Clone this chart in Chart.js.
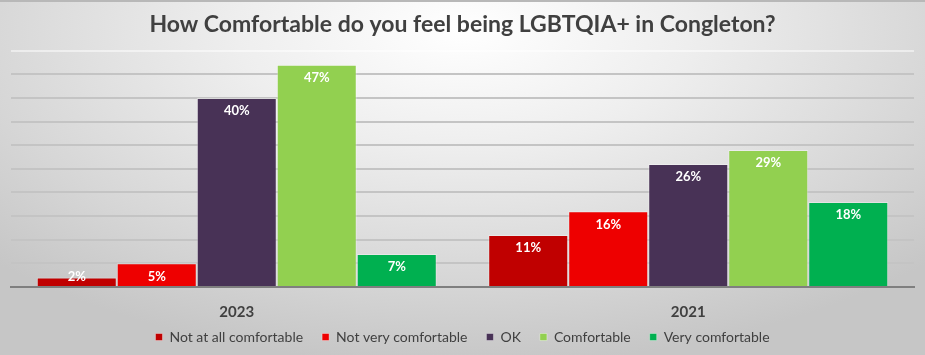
<!DOCTYPE html>
<html>
<head>
<meta charset="utf-8">
<script src="https://cdn.jsdelivr.net/npm/chart.js@4/dist/chart.umd.min.js"></script>
<style>
  html, body { margin: 0; padding: 0; }
  body { width: 925px; height: 355px; overflow: hidden; }
  #wrap {
    position: relative; width: 925px; height: 355px; box-sizing: border-box;
    border-top: 2px solid #b8b8b8;
    background: radial-gradient(ellipse 70% 95% at 50% 8%, #ffffff 0%, #eeeeee 35%, #d6d6d6 75%, #c6c6c6 100%);
  }
  canvas { position: absolute; left: 0; top: 0; }
</style>
</head>
<body>
<div id="wrap"><canvas id="c" width="925" height="355"></canvas></div>
<script>
const title = "How Comfortable do you feel being LGBTQIA+ in Congleton?";
const categories = ["2023", "2021"];
const seriesNames = ["Not at all comfortable", "Not very comfortable", "OK", "Comfortable", "Very comfortable"];
const notAtAll = [2, 11];
const notVery = [5, 16];
const ok = [40, 26];
const comfortable = [47, 29];
const veryComfortable = [7, 18];
const seriesColors = ["#C00000", "#EE0000", "#483256", "#92D050", "#00B050"];
const yTicks = [0, 5, 10, 15, 20, 25, 30, 35, 40, 45, 50];

const seriesValues = [notAtAll, notVery, ok, comfortable, veryComfortable];

const labelPlugin = {
  id: 'barLabels',
  afterDatasetsDraw(chart) {
    const ctx = chart.ctx;
    const base = chart.scales.y.getPixelForValue(0);
    ctx.save();
    ctx.fillStyle = '#ffffff';
    ctx.font = 'bold 13px Lato, "Open Sans", sans-serif';
    ctx.textAlign = 'center';
    ctx.textBaseline = 'middle';
    chart.data.datasets.forEach((ds, i) => {
      chart.getDatasetMeta(i).data.forEach((bar, j) => {
        const y = Math.min(bar.y + 13, base - 10.5);
        ctx.fillText(ds.data[j] + '%', bar.x, y);
      });
    });
    ctx.restore();
  }
};

// keep wide horizontal spacing between legend items but tighter vertical placement
const legendShift = {
  id: 'legendShift',
  afterLayout(chart) {
    const L = chart.legend;
    if (!L) return;
    const dy = L.options.labels.padding - 7;
    L.top -= dy;
    L.height += dy;
  }
};

new Chart(document.getElementById('c'), {
  type: 'bar',
  data: {
    labels: categories,
    datasets: seriesNames.map((n, i) => ({
      label: n,
      data: seriesValues[i],
      backgroundColor: seriesColors[i],
      borderColor: 'rgba(255,255,255,0.35)',
      borderWidth: 1,
      barPercentage: 1.0,
      categoryPercentage: 0.886
    }))
  },
  options: {
    responsive: false,
    animation: false,
    devicePixelRatio: 1,
    layout: { padding: { left: 11, right: 11, top: 0, bottom: 5 } },
    plugins: {
      title: {
        display: true, text: title, color: '#404040',
        font: { family: 'Lato, "Open Sans", sans-serif', size: 23, weight: 'bold' },
        padding: { top: 9, bottom: 12 }
      },
      legend: {
        position: 'bottom',
        maxHeight: 29,
        labels: {
          boxWidth: 7, boxHeight: 7, color: '#404040', padding: 19,
          font: { family: 'Lato, "Open Sans", sans-serif', size: 14 }
        }
      },
      tooltip: { enabled: false }
    },
    scales: {
      x: {
        grid: { display: false },
        border: { display: true, color: '#7f7f7f', width: 2 },
        afterFit(scale) { scale.height = 36; },
        ticks: {
          color: '#404040', padding: 8,
          font: { family: 'Lato, "Open Sans", sans-serif', size: 15, weight: 'bold' }
        }
      },
      y: {
        min: 0, max: 50,
        afterBuildTicks(axis) { axis.ticks = yTicks.map(v => ({ value: v })); },
        ticks: { display: false },
        border: { display: false },
        grid: {
          drawTicks: false, lineWidth: 2,
          color: (c) => c.tick && c.tick.value === 50 ? 'rgba(255,255,255,0.5)' : '#c4c4c4'
        }
      }
    }
  },
  plugins: [labelPlugin, legendShift]
});
</script>
</body>
</html>
